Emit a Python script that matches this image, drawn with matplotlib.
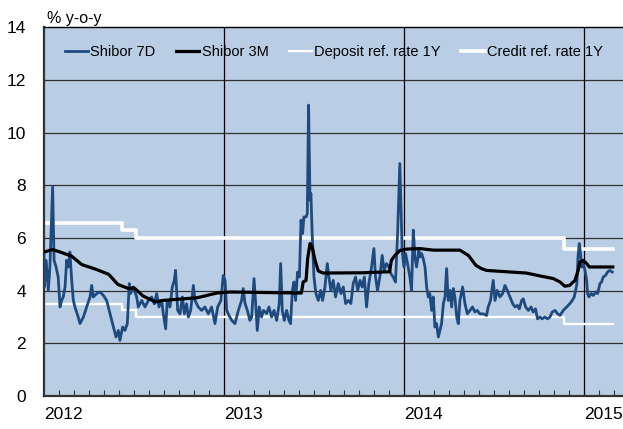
import numpy as np
import matplotlib
matplotlib.use("Agg")
import matplotlib.pyplot as plt
from matplotlib.ticker import MultipleLocator

plt.rcParams['font.family'] = ['Liberation Sans', 'DejaVu Sans']

# Shibor 7D: time in years since 1 Jan 2012, value in %
t_7d = [0.000, 0.002, 0.012, 0.024, 0.033, 0.048, 0.056, 0.067, 0.079, 0.089,
        0.098, 0.107, 0.117, 0.126, 0.135, 0.144, 0.154, 0.163, 0.172, 0.190,
        0.200, 0.219, 0.237, 0.256, 0.265, 0.274, 0.293, 0.311, 0.330, 0.348,
        0.367, 0.385, 0.400, 0.413, 0.422, 0.437, 0.450, 0.463, 0.474, 0.481,
        0.496, 0.515, 0.524, 0.543, 0.561, 0.580, 0.598, 0.613, 0.626, 0.639,
        0.654, 0.663, 0.676, 0.685, 0.700, 0.713, 0.724, 0.731, 0.743, 0.756,
        0.769, 0.780, 0.792, 0.802, 0.815, 0.830, 0.839, 0.857, 0.876, 0.894,
        0.913, 0.931, 0.950, 0.965, 0.983, 0.996, 1.006, 1.015, 1.028, 1.043,
        1.061, 1.080, 1.098, 1.107, 1.117, 1.130, 1.144, 1.154, 1.167, 1.176,
        1.185, 1.196, 1.209, 1.220, 1.237, 1.250, 1.265, 1.278, 1.293, 1.307,
        1.315, 1.324, 1.335, 1.348, 1.361, 1.370, 1.380, 1.389, 1.398, 1.409,
        1.419, 1.428, 1.437, 1.444, 1.456, 1.463, 1.470, 1.478, 1.483, 1.490,
        1.500, 1.511, 1.524, 1.537, 1.548, 1.561, 1.574, 1.583, 1.594, 1.607,
        1.620, 1.635, 1.650, 1.663, 1.676, 1.691, 1.705, 1.718, 1.731, 1.743,
        1.756, 1.768, 1.780, 1.792, 1.805, 1.820, 1.833, 1.842, 1.853, 1.866,
        1.879, 1.890, 1.903, 1.916, 1.927, 1.940, 1.953, 1.964, 1.972, 1.977,
        1.985, 1.990, 2.000, 2.009, 2.020, 2.033, 2.042, 2.052, 2.061, 2.070,
        2.083, 2.089, 2.098, 2.107, 2.117, 2.126, 2.135, 2.144, 2.154, 2.163,
        2.172, 2.181, 2.191, 2.200, 2.209, 2.219, 2.228, 2.237, 2.246, 2.256,
        2.265, 2.274, 2.283, 2.293, 2.302, 2.311, 2.326, 2.339, 2.352, 2.367,
        2.381, 2.394, 2.407, 2.422, 2.441, 2.459, 2.468, 2.481, 2.496, 2.506,
        2.518, 2.533, 2.548, 2.561, 2.574, 2.589, 2.604, 2.617, 2.630, 2.641,
        2.654, 2.663, 2.676, 2.691, 2.706, 2.718, 2.731, 2.742, 2.756, 2.768,
        2.783, 2.798, 2.811, 2.824, 2.839, 2.854, 2.867, 2.885, 2.904, 2.922,
        2.935, 2.946, 2.954, 2.961, 2.967, 2.974, 2.981, 2.987, 2.996, 3.006,
        3.015, 3.020, 3.028, 3.039, 3.052, 3.065, 3.076, 3.089, 3.098, 3.107,
        3.120, 3.131, 3.144, 3.157]
shibor_7d = [5.41, 4.14, 5.15, 4.01, 4.90, 7.94, 5.15, 4.90, 4.52, 3.38,
             3.63, 3.76, 4.14, 5.15, 4.90, 5.47, 4.39, 3.63, 3.38, 3.00,
             2.75, 3.00, 3.38, 3.76, 4.20, 3.76, 3.89, 3.95, 3.82, 3.63,
             3.12, 2.62, 2.24, 2.49, 2.11, 2.62, 2.49, 2.75, 4.27, 3.89,
             4.14, 3.76, 3.38, 3.63, 3.38, 3.63, 3.76, 3.50, 3.89, 3.38,
             3.63, 3.12, 2.55, 3.63, 3.38, 4.14, 4.39, 4.77, 3.25, 3.12,
             3.76, 3.12, 3.50, 3.00, 3.25, 4.20, 3.63, 3.38, 3.25, 3.38,
             3.12, 3.38, 2.75, 3.38, 3.63, 4.58, 4.39, 3.25, 3.06, 2.87,
             2.75, 3.25, 3.63, 4.08, 3.51, 3.25, 2.87, 3.00, 4.46, 3.51,
             2.49, 3.38, 3.00, 3.25, 3.13, 3.38, 3.00, 3.25, 2.87, 3.51,
             5.03, 3.25, 2.87, 3.25, 2.87, 2.75, 4.01, 4.33, 3.63, 4.71,
             4.52, 6.68, 6.17, 6.80, 6.80, 6.93, 11.05, 7.44, 7.69, 6.17,
             4.52, 3.89, 3.63, 4.01, 3.63, 4.14, 5.03, 4.52, 4.01, 4.39,
             3.76, 4.27, 3.89, 4.14, 3.51, 3.63, 3.51, 4.27, 4.52, 4.01,
             4.39, 4.14, 4.52, 3.38, 4.27, 4.90, 5.60, 4.52, 4.01, 4.52,
             5.34, 4.77, 5.03, 4.90, 4.65, 4.52, 4.33, 6.04, 7.82, 8.83,
             6.80, 5.53, 4.90, 5.41, 5.03, 4.52, 4.01, 6.30, 5.28, 4.90,
             5.53, 5.28, 5.41, 5.22, 4.90, 4.14, 3.76, 3.89, 3.25, 3.76,
             2.62, 2.75, 2.24, 2.49, 2.75, 3.51, 3.76, 4.84, 3.63, 4.01,
             3.38, 4.08, 3.76, 3.00, 2.75, 3.63, 4.14, 3.51, 3.12, 3.25,
             3.38, 3.19, 3.25, 3.12, 3.12, 3.06, 3.38, 3.63, 4.39, 3.63,
             4.01, 3.76, 3.89, 4.20, 4.01, 3.76, 3.51, 3.38, 3.44, 3.31,
             3.63, 3.69, 3.38, 3.25, 3.38, 3.19, 3.31, 2.93, 3.00, 2.93,
             3.00, 2.93, 3.00, 3.19, 3.25, 3.12, 3.06, 3.25, 3.38, 3.51,
             3.63, 3.76, 4.01, 4.27, 5.28, 5.79, 5.41, 4.90, 5.03, 4.77,
             4.39, 3.89, 3.76, 3.89, 3.82, 3.95, 3.89, 4.27, 4.33, 4.52,
             4.58, 4.71, 4.77, 4.71]

# Shibor 3M
t_3m = [0.000, 0.048, 0.098, 0.154, 0.210, 0.290, 0.360, 0.410, 0.470, 0.500,
        0.550, 0.620, 0.660, 0.850, 0.960, 1.033, 1.430, 1.440, 1.456, 1.465,
        1.478, 1.490, 1.506, 1.524, 1.550, 1.774, 1.920, 1.930, 1.950, 1.978,
        2.015, 2.089, 2.163, 2.311, 2.358, 2.400, 2.430, 2.459, 2.589, 2.680,
        2.756, 2.830, 2.867, 2.894, 2.920, 2.950, 2.968, 2.978, 2.996, 3.015,
        3.030, 3.160]
shibor_3m = [5.47, 5.56, 5.45, 5.31, 4.99, 4.81, 4.62, 4.24, 4.08, 4.11,
             3.80, 3.57, 3.63, 3.73, 3.91, 3.95, 3.91, 4.33, 4.39, 5.22,
             5.79, 5.66, 5.15, 4.75, 4.67, 4.68, 4.72, 5.15, 5.34, 5.53,
             5.58, 5.60, 5.54, 5.54, 5.34, 4.96, 4.84, 4.77, 4.71, 4.67,
             4.56, 4.46, 4.33, 4.17, 4.20, 4.39, 4.77, 5.09, 5.15, 5.03,
             4.90, 4.90]

# benchmark rates (step changes 8 Jun 2012, 6 Jul 2012, 22 Nov 2014)
t_rates = [0.000, 0.434, 0.511, 2.890, 3.160]
deposit_1y = [3.50, 3.25, 3.00, 2.75, 2.75]
credit_1y = [6.56, 6.31, 6.00, 5.60, 5.60]

year_labels = ['2012', '2013', '2014', '2015']

start = 2012.0
x7 = start + np.array(t_7d)
x3 = start + np.array(t_3m)
xr = start + np.array(t_rates)

fig = plt.figure(figsize=(6.23, 4.29), dpi=100)
ax = fig.add_axes([0.0706, 0.077, 0.9294, 0.859])
ax.set_facecolor('#B9CDE4')

ax.plot(x7, shibor_7d, color='#1F4A7E', lw=2.0, label='Shibor 7D', zorder=3)
ax.plot(x3, shibor_3m, color='black', lw=2.3, label='Shibor 3M', zorder=4)
ax.plot(xr, deposit_1y, color='white', lw=1.7, drawstyle='steps-post',
        label='Deposit ref. rate 1Y', zorder=2)
ax.plot(xr, credit_1y, color='white', lw=2.6, drawstyle='steps-post',
        label='Credit ref. rate 1Y', zorder=2)

ax.set_ylim(0, 14)
ax.set_xlim(2012.0, 2015.217)
ax.set_yticks(range(0, 15, 2))
ax.set_xticks([2012, 2013, 2014, 2015])
ax.set_xticklabels(year_labels)
ax.xaxis.set_minor_locator(MultipleLocator(1 / 12))

for v in range(2, 14, 2):
    ax.axhline(v, color='#303030', lw=0.9, zorder=1)
for yr in [2013, 2014, 2015]:
    ax.axvline(yr, color='black', lw=0.9, zorder=1)

ax.tick_params(axis='y', length=0, pad=13, labelsize=12.5)
ax.tick_params(axis='x', which='major', length=0, pad=8, labelsize=12.5)
ax.tick_params(axis='x', which='minor', direction='in', length=4, width=0.8,
               color='#333333')
for lbl in ax.get_xticklabels():
    lbl.set_horizontalalignment('left')

ax.spines['right'].set_visible(False)
ax.spines['top'].set_color('black')
ax.spines['top'].set_linewidth(1.0)
ax.spines['left'].set_color('#333333')
ax.spines['left'].set_linewidth(1.6)
ax.spines['bottom'].set_color('#333333')
ax.spines['bottom'].set_linewidth(1.6)

ax.text(0.005, 1.003, '% y-o-y', transform=ax.transAxes, fontsize=11.5,
        ha='left', va='bottom')

ax.legend(loc='upper left', bbox_to_anchor=(0.036, 0.952), ncol=4,
          frameon=False, fontsize=10.5, handlelength=1.6, handletextpad=0.15,
          columnspacing=1.4, borderaxespad=0, borderpad=0)

fig.savefig('out.png', dpi=100)
